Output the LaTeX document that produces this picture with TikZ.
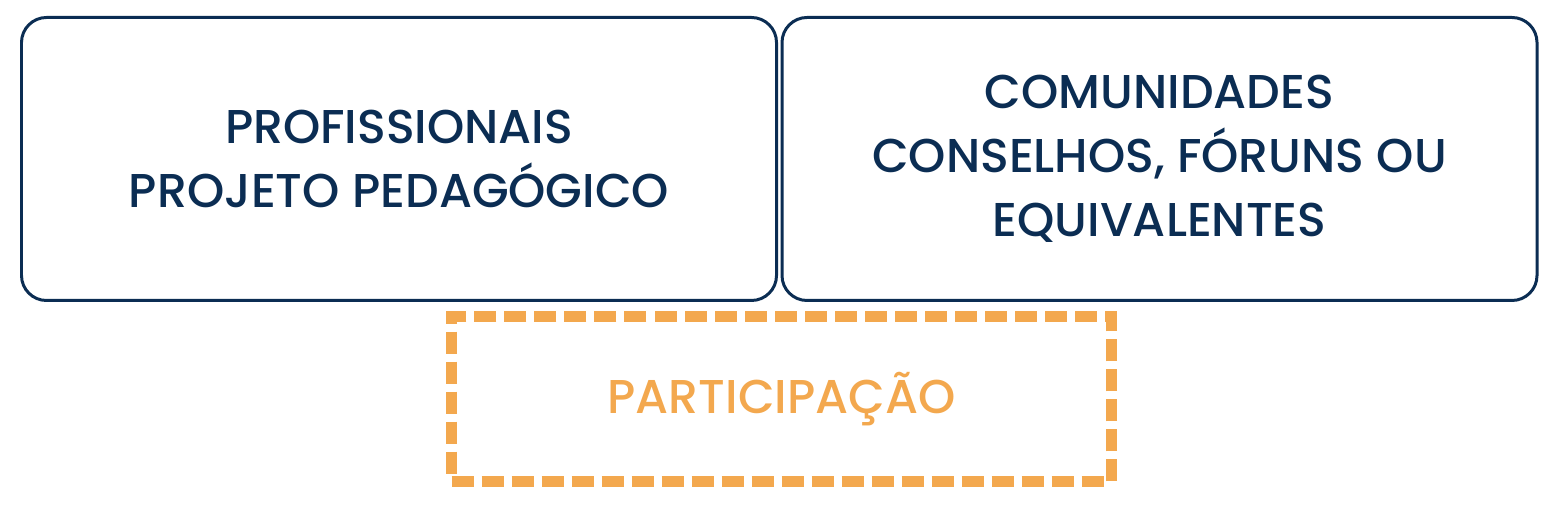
\documentclass[tikz,border=0pt]{standalone}
\usepackage{fontspec}
\setmainfont{Poppins Medium}
\usetikzlibrary{positioning}
\definecolor{navy}{HTML}{0B2D53}
\definecolor{laranja}{HTML}{F3A84E}

\begin{document}
\begin{tikzpicture}[scale=1]
\useasboundingbox (0,0) rectangle (31.04,10.14);
\tikzset{caixa/.style={draw=navy, line width=1.7pt, rounded corners=0.5cm, minimum width=15.1cm, minimum height=5.66cm, align=center, text=navy, font=\fontsize{27}{36.4}\selectfont},
tracejada/.style={draw=laranja, line width=6pt, dash pattern=on 0.44cm off 0.16cm, minimum width=13.2cm, minimum height=3.3cm, text=laranja, font=\fontsize{27}{36.4}\selectfont}}
\node[caixa] (prof) at (7.98,6.96) {PROFISSIONAIS\\PROJETO PEDAGÓGICO};
\node[caixa] (comun) at (23.19,6.96) {COMUNIDADES\\CONSELHOS, FÓRUNS OU\\EQUIVALENTES};
\node[tracejada] (part) at (15.63,2.16) {PARTICIPAÇÃO};
\end{tikzpicture}
\end{document}
